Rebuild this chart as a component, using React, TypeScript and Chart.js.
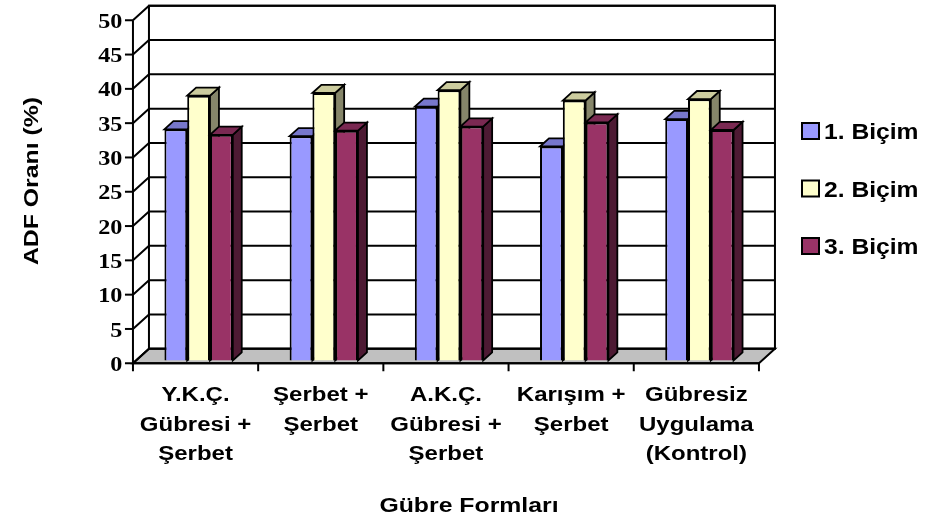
import React, { useEffect, useRef } from "react";
import { Chart, registerables } from "chart.js";

Chart.register(...registerables);

// ---------- data ----------
const categories = [
  ["Y.K.Ç.", "Gübresi +", "Şerbet"],
  ["Şerbet +", "Şerbet"],
  ["A.K.Ç.", "Gübresi +", "Şerbet"],
  ["Karışım +", "Şerbet"],
  ["Gübresiz", "Uygulama", "(Kontrol)"],
];
const seriesNames = ["1. Biçim", "2. Biçim", "3. Biçim"];
const bicim1 = [33.7, 32.7, 37.0, 31.2, 35.2];
const bicim2 = [38.6, 39.0, 39.4, 37.9, 38.1];
const bicim3 = [32.9, 33.5, 34.1, 34.7, 33.6];
const yMin = 0;
const yMax = 50;
const yStep = 5;
const xTitle = "Gübre Formları";
const yTitle = "ADF Oranı (%)";

// ---------- styles ----------
const frontColors = ["#9999FF", "#FFFFCC", "#993366"];
const topColors = ["#7777CC", "#CCCC9E", "#7A2952"];
const sideColors = ["#4D4D80", "#86866A", "#4D1A33"];
const DX = 16;
const DY = 14.5;
const F0 = 0.19;
const F1 = 0.75;

function drawText(ctx: CanvasRenderingContext2D, text: string, x: number, y: number, sx: number, font: string, align: CanvasTextAlign, rot = 0) {
  ctx.save();
  ctx.translate(x, y);
  if (rot) ctx.rotate(rot);
  ctx.scale(sx, 1);
  ctx.font = font;
  ctx.textAlign = align;
  ctx.textBaseline = "alphabetic";
  ctx.fillStyle = "#000000";
  ctx.fillText(text, 0, 0);
  ctx.restore();
}

function poly(ctx: CanvasRenderingContext2D, pts: number[][], fill: string | null, stroke: string | null, lw = 2) {
  ctx.beginPath();
  ctx.moveTo(pts[0][0], pts[0][1]);
  for (let i = 1; i < pts.length; i++) ctx.lineTo(pts[i][0], pts[i][1]);
  ctx.closePath();
  if (fill) {
    ctx.fillStyle = fill;
    ctx.fill();
  }
  if (stroke) {
    ctx.strokeStyle = stroke;
    ctx.lineWidth = lw;
    ctx.lineJoin = "miter";
    ctx.stroke();
  }
}

function line(ctx: CanvasRenderingContext2D, pts: number[][], lw = 2) {
  ctx.beginPath();
  ctx.moveTo(pts[0][0], pts[0][1]);
  for (let i = 1; i < pts.length; i++) ctx.lineTo(pts[i][0], pts[i][1]);
  ctx.strokeStyle = "#000000";
  ctx.lineWidth = lw;
  ctx.stroke();
}

const threeD = {
  id: "threeD",
  beforeDatasetsDraw(chart: any) {
    const { ctx, chartArea, scales } = chart;
    const ys = scales.y;
    const ox = DX * F0;
    const oy = DY * F0;
    const L = chartArea.left - ox;
    const R = chartArea.right - ox;
    const yF = (v: number) => ys.getPixelForValue(v) + oy;
    const y0 = yF(yMin);
    const yT = yF(yMax);
    ctx.save();
    // back wall
    poly(ctx, [[L + DX, yT - DY], [R + DX, yT - DY], [R + DX, y0 - DY], [L + DX, y0 - DY]], "#FFFFFF", "#000000", 2);
    // floor
    poly(ctx, [[L, y0], [R, y0], [R + DX, y0 - DY], [L + DX, y0 - DY]], "#C0C0C0", "#000000", 2);
    // gridlines (side + back)
    ys.ticks.forEach((t: any) => {
      const y = yF(t.value);
      line(ctx, [[L, y], [L + DX, y - DY], [R + DX, y - DY]], 2);
      line(ctx, [[L - 8, y], [L, y]], 2);
    });
    // front vertical axis
    line(ctx, [[L, y0], [L, yT]], 2);
    // x axis ticks
    const n = categories.length;
    for (let i = 0; i <= n; i++) {
      const x = L + (i * (R - L)) / n;
      line(ctx, [[x, y0], [x, y0 + 8]], 2);
    }
    line(ctx, [[L, y0], [R, y0]], 2);
    ctx.restore();
  },
  beforeDatasetDraw() {
    // bars are drawn in afterDatasetsDraw, left to right, with their 3D faces
    return false;
  },
  afterDatasetsDraw(chart: any) {
    const { ctx } = chart;
    const dx = DX * (F1 - F0);
    const dy = DY * (F1 - F0);
    const count = chart.data.datasets.length;
    for (let i = 0; i < count; i++) {
      const meta = chart.getDatasetMeta(i);
      ctx.save();
      meta.data.forEach((el: any) => {
        const p = el.getProps(["x", "y", "base", "width"], true);
        const l = p.x - p.width / 2;
        const r = p.x + p.width / 2;
        const top = p.y;
        const bot = p.base;
        poly(ctx, [[r, top], [r + dx, top - dy], [r + dx, bot - dy], [r, bot]], sideColors[i], "#000000", 1.8);
        poly(ctx, [[l, top], [r, top], [r + dx, top - dy], [l + dx, top - dy]], topColors[i], "#000000", 1.8);
      });
      ctx.restore();
      meta.controller.draw();
    }
  },
  afterDraw(chart: any) {
    const { ctx, chartArea, scales } = chart;
    const ys = scales.y;
    const ox = DX * F0;
    const oy = DY * F0;
    const L = chartArea.left - ox;
    const R = chartArea.right - ox;
    const yF = (v: number) => ys.getPixelForValue(v) + oy;
    // y tick labels
    ys.ticks.forEach((t: any) => {
      drawText(ctx, String(t.value), L - 10.5, yF(t.value) + 7.6, 1.1, "bold 22px 'Liberation Serif', 'DejaVu Serif', serif", "right");
    });
    // x labels
    const n = categories.length;
    categories.forEach((lines, i) => {
      const cx = L + ((i + 0.5) * (R - L)) / n;
      lines.forEach((s, j) => {
        drawText(ctx, s, cx, 401 + j * 29.5, 1.2, "bold 20px 'Liberation Sans', Arial, sans-serif", "center");
      });
    });
    // titles
    drawText(ctx, xTitle, 469, 511.5, 1.24, "bold 20px 'Liberation Sans', Arial, sans-serif", "center");
    drawText(ctx, yTitle, 38, 181, 1.24, "bold 20px 'Liberation Sans', Arial, sans-serif", "center", -Math.PI / 2);
    // legend
    const centers = [131, 188.5, 246];
    seriesNames.forEach((name, i) => {
      const cy = centers[i];
      poly(ctx, [[802, cy - 8], [819, cy - 8], [819, cy + 8], [802, cy + 8]], frontColors[i], "#000000", 2);
      drawText(ctx, name, 824, cy + 8, 1.12, "bold 22px 'Liberation Sans', Arial, sans-serif", "left");
    });
  },
};

export default function App() {
  const ref = useRef<HTMLCanvasElement | null>(null);
  useEffect(() => {
    if (!ref.current) return;
    const chart = new Chart(ref.current, {
      type: "bar",
      data: {
        labels: categories,
        datasets: [bicim1, bicim2, bicim3].map((d, i) => ({
          label: seriesNames[i],
          data: d,
          backgroundColor: frontColors[i],
          borderColor: "#000000",
          borderWidth: 2,
          categoryPercentage: 0.546,
          barPercentage: 1.0,
        })),
      },
      options: {
        responsive: false,
        animation: false,
        events: [],
        layout: { padding: { top: 17.5, right: 171, left: 0, bottom: 0 } },
        plugins: { legend: { display: false }, tooltip: { enabled: false }, title: { display: false } },
        scales: {
          x: {
            type: "category",
            grid: { display: false, drawTicks: false },
            border: { display: false },
            ticks: { display: false },
            afterFit: (s: any) => {
              s.height = 164.5;
            },
          },
          y: {
            min: yMin,
            max: yMax,
            grid: { display: false, drawTicks: false },
            border: { display: false },
            ticks: { display: false, stepSize: yStep },
            afterFit: (s: any) => {
              s.width = 136;
            },
          },
        },
      },
      plugins: [threeD],
    } as any);
    return () => chart.destroy();
  }, []);
  return (
    <div style={{ position: "fixed", left: 0, top: 0, width: 933, height: 525, background: "#FFFFFF" }}>
      <canvas ref={ref} width={933} height={525} style={{ display: "block" }} />
    </div>
  );
}
